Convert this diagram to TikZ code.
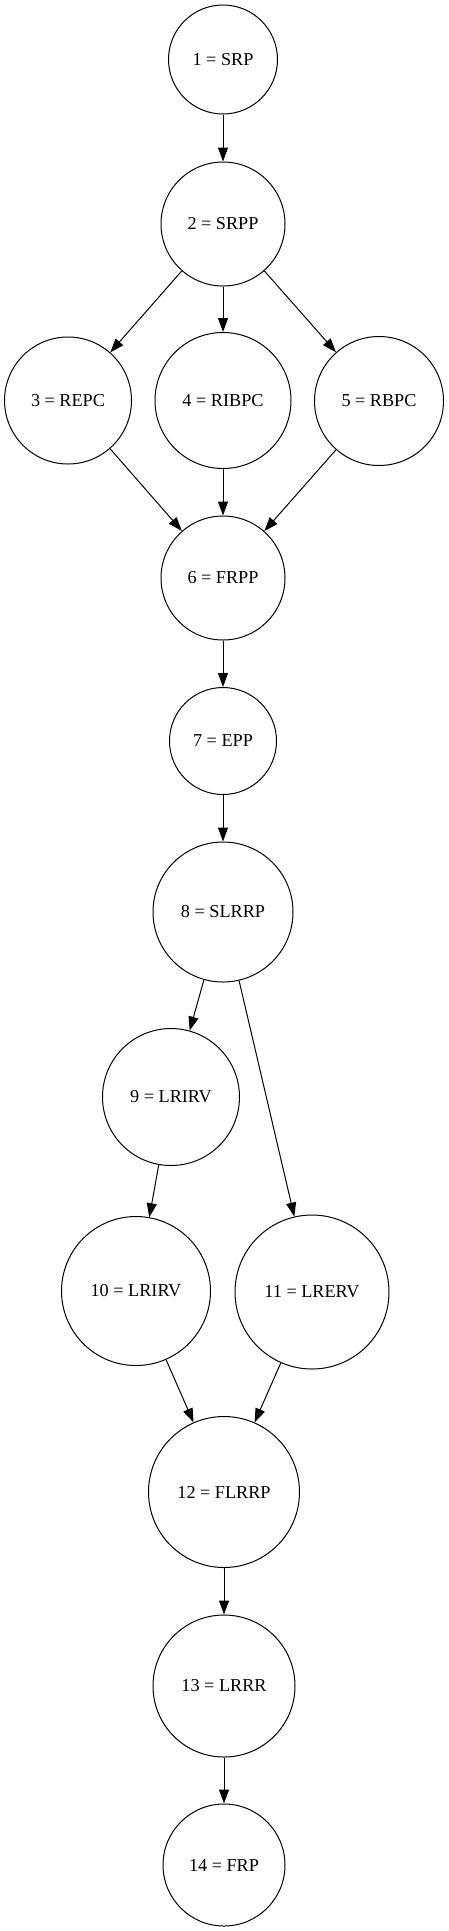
\documentclass[tikz,border=0pt]{standalone}
\usepackage{fontspec}
\setmainfont{Liberation Serif}
\usetikzlibrary{arrows.meta}

\tikzset{
  state/.style={circle,draw,line width=1pt,inner sep=0pt,
    font=\fontsize{18.2}{22}\selectfont},
  flow/.style={-{Triangle[length=14pt,width=10pt]},line width=1pt}
}

\begin{document}
\begin{tikzpicture}[x=1pt,y=-1pt]
\useasboundingbox (0,0) rectangle (449,1931);
% ---- phase nodes, top to bottom ----
\node[state,minimum size=109pt] (n1)  at (223,59.5)  {1 = SRP};
\node[state,minimum size=124pt] (n2)  at (223,224)   {2 = SRPP};
\node[state,minimum size=127pt] (n3)  at (68,400.5)  {3 = REPC};
\node[state,minimum size=136pt] (n4)  at (223,400.5) {4 = RIBPC};
\node[state,minimum size=129pt] (n5)  at (379,401)   {5 = RBPC};
\node[state,minimum size=124pt] (n6)  at (223,578)   {6 = FRPP};
\node[state,minimum size=107pt] (n7)  at (223,741)   {7 = EPP};
\node[state,minimum size=140pt] (n8)  at (223,912)   {8 = SLRRP};
\node[state,minimum size=137pt] (n9)  at (171,1097)  {9 = LRIRV};
\node[state,minimum size=149pt] (n10) at (136,1291)  {10 = LRIRV};
\node[state,minimum size=154pt] (n11) at (312,1292)  {11 = LRERV};
\node[state,minimum size=151pt] (n12) at (224,1492)  {12 = FLRRP};
\node[state,minimum size=142pt] (n13) at (224,1686)  {13 = LRRR};
\node[state,minimum size=122pt] (n14) at (224,1865)  {14 = FRP};
% ---- transitions ----
\draw[flow] (n1) -- (n2);
\foreach \k in {n3,n4,n5} {
  \draw[flow] (n2) -- (\k);
  \draw[flow] (\k) -- (n6);
}
\draw[flow] (n6) -- (n7);
\draw[flow] (n7) -- (n8);
\draw[flow] (n8) -- (n9);
\draw[flow] (n8) -- (n11);
\draw[flow] (n9) -- (n10);
\draw[flow] (n10) -- (n12);
\draw[flow] (n11) -- (n12);
\draw[flow] (n12) -- (n13);
\draw[flow] (n13) -- (n14);
\end{tikzpicture}
\end{document}
